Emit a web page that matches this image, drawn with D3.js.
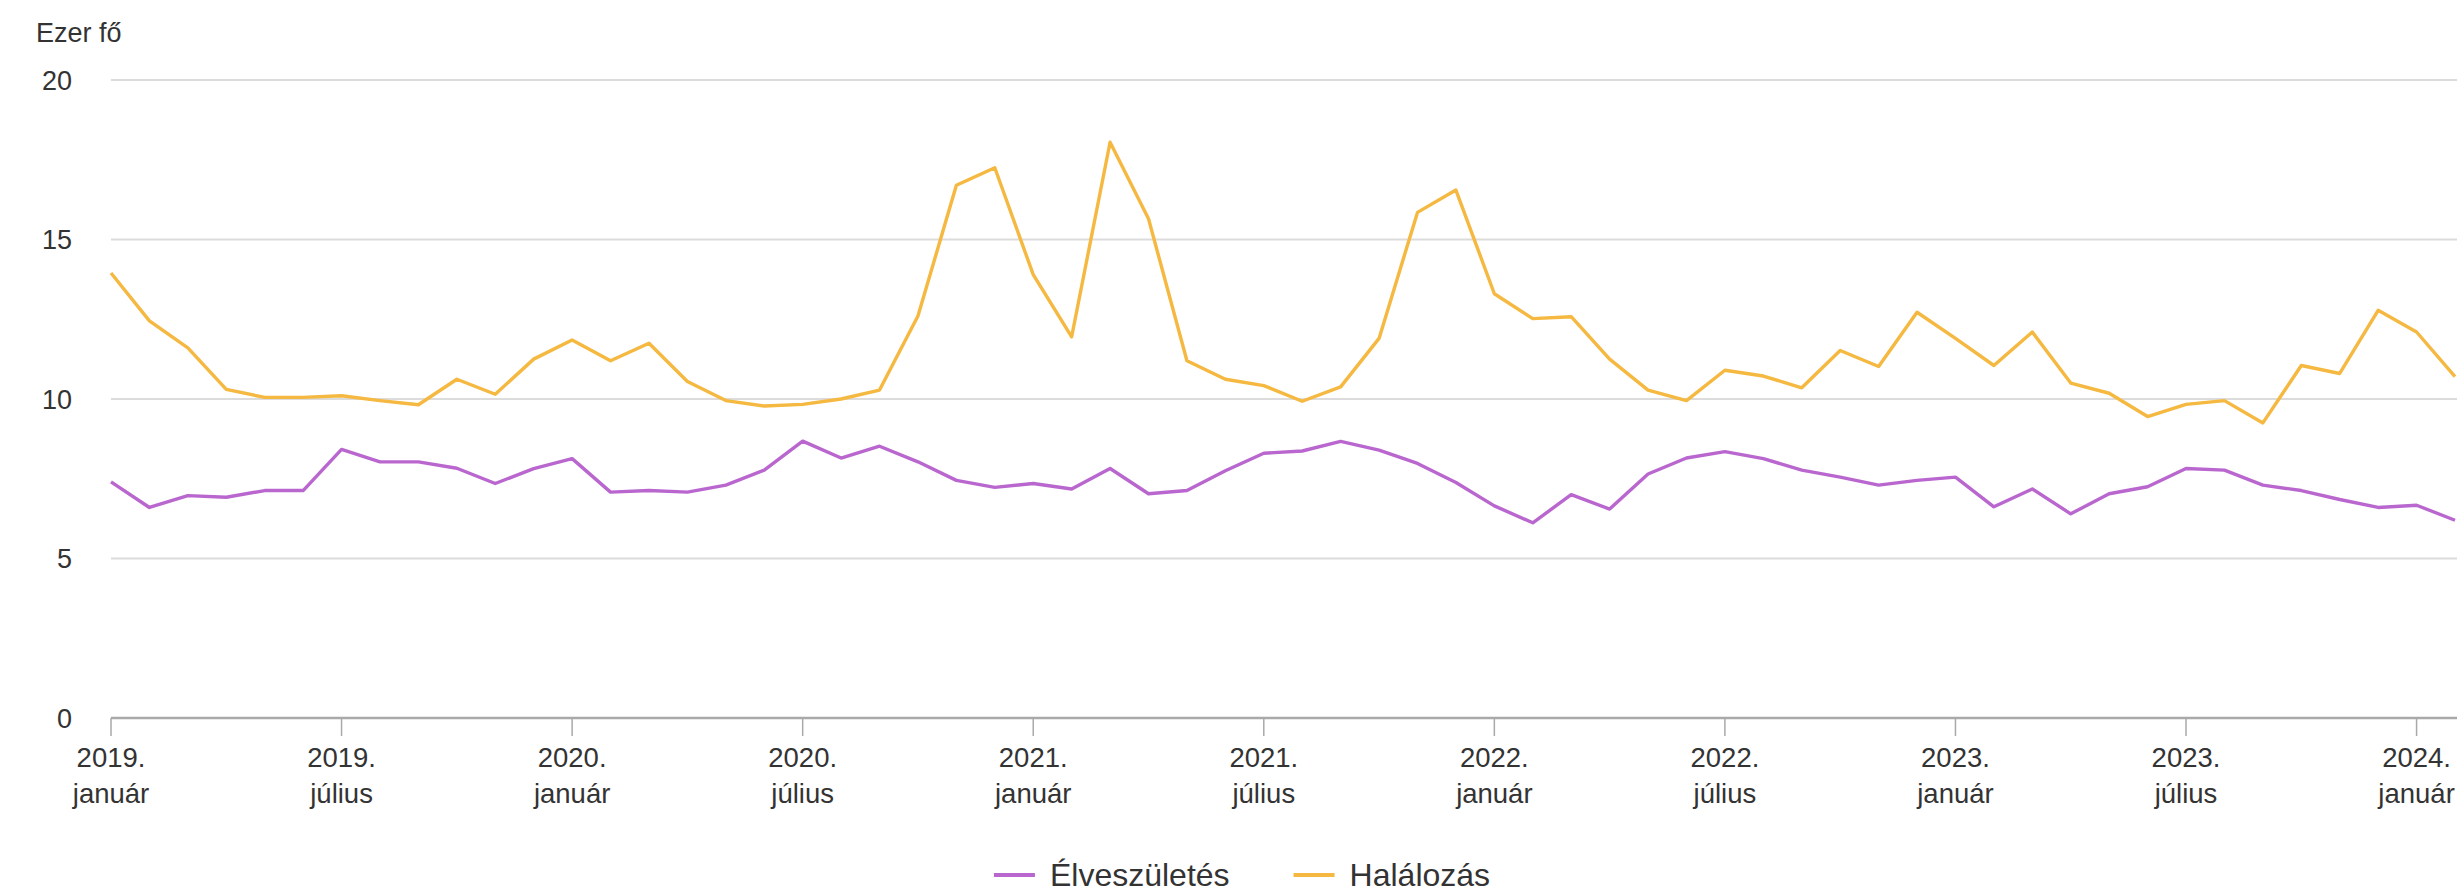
<!DOCTYPE html>
<html>
<head>
<meta charset="utf-8">
<script src="https://cdn.jsdelivr.net/npm/d3@7"></script>
<style>
  html, body { margin: 0; padding: 0; background: #ffffff; }
  svg { display: block; font-family: "Liberation Sans", Arial, sans-serif; }
</style>
</head>
<body>
<svg id="chart" width="2463" height="895"></svg>
<script>
// ---- Data ----
const months = [
  "2019-01","2019-02","2019-03","2019-04","2019-05","2019-06","2019-07","2019-08","2019-09","2019-10","2019-11","2019-12",
  "2020-01","2020-02","2020-03","2020-04","2020-05","2020-06","2020-07","2020-08","2020-09","2020-10","2020-11","2020-12",
  "2021-01","2021-02","2021-03","2021-04","2021-05","2021-06","2021-07","2021-08","2021-09","2021-10","2021-11","2021-12",
  "2022-01","2022-02","2022-03","2022-04","2022-05","2022-06","2022-07","2022-08","2022-09","2022-10","2022-11","2022-12",
  "2023-01","2023-02","2023-03","2023-04","2023-05","2023-06","2023-07","2023-08","2023-09","2023-10","2023-11","2023-12",
  "2024-01","2024-02"
];

const elveszuletes = [
  7.40, 6.60, 6.97, 6.92, 7.13, 7.13, 8.42, 8.03, 8.03, 7.83, 7.35, 7.82,
  8.13, 7.08, 7.13, 7.08, 7.30, 7.77, 8.68, 8.15, 8.52, 8.03, 7.45, 7.23,
  7.35, 7.18, 7.82, 7.03, 7.13, 7.75, 8.30, 8.37, 8.67, 8.40, 7.98, 7.38,
  6.65, 6.12, 7.00, 6.55, 7.65, 8.15, 8.35, 8.13, 7.77, 7.55, 7.30, 7.45,
  7.55, 6.62, 7.18, 6.40, 7.03, 7.25, 7.82, 7.77, 7.30, 7.13, 6.85, 6.60,
  6.67, 6.20
];

const halalozas = [
  13.95, 12.45, 11.60, 10.30, 10.05, 10.05, 10.10, 9.95, 9.82, 10.62, 10.15, 11.25,
  11.85, 11.20, 11.75, 10.55, 9.95, 9.78, 9.83, 10.00, 10.28, 12.60, 16.70, 17.25,
  13.90, 11.95, 18.05, 15.65, 11.20, 10.62, 10.42, 9.93, 10.38, 11.90, 15.85, 16.55,
  13.30, 12.52, 12.58, 11.25, 10.28, 9.95, 10.90, 10.72, 10.35, 11.52, 11.02, 12.72,
  11.90, 11.05, 12.10, 10.50, 10.18, 9.45, 9.83, 9.95, 9.25, 11.05, 10.80, 12.78,
  12.10, 10.70
];

const tickMonths = ["2019-01","2019-07","2020-01","2020-07","2021-01","2021-07","2022-01","2022-07","2023-01","2023-07","2024-01"];
const tickYears  = ["2019.","2019.","2020.","2020.","2021.","2021.","2022.","2022.","2023.","2023.","2024."];
const tickNames  = ["január","július","január","július","január","július","január","július","január","július","január"];

const yTicks = [0, 5, 10, 15, 20];
const yUnit = "Ezer fő";

const seriesNames  = ["Élveszületés", "Halálozás"];
const seriesColors = ["#b967cf", "#f5b840"];
const seriesValues = [elveszuletes, halalozas];

// ---- Chart ----
const svg = d3.select("#chart");
const textColor = "#333333";

const x = d3.scalePoint().domain(months).range([111, 2455]);
const y = d3.scaleLinear().domain([0, 20]).range([718, 80]);

// gridlines
svg.append("g")
  .selectAll("line")
  .data(yTicks.filter(d => d > 0))
  .join("line")
  .attr("x1", 111).attr("x2", 2457)
  .attr("y1", d => y(d)).attr("y2", d => y(d))
  .attr("stroke", "#dcdcdc").attr("stroke-width", 2);

// y labels
svg.append("g")
  .selectAll("text")
  .data(yTicks)
  .join("text")
  .attr("x", 72).attr("y", d => y(d))
  .attr("dy", "0.36em")
  .attr("text-anchor", "end")
  .attr("font-size", 27)
  .attr("fill", textColor)
  .text(d => d);

// unit label
svg.append("text")
  .attr("x", 36).attr("y", 42)
  .attr("font-size", 27)
  .attr("fill", textColor)
  .text(yUnit);

// x axis line
svg.append("line")
  .attr("x1", 111).attr("x2", 2457)
  .attr("y1", y(0)).attr("y2", y(0))
  .attr("stroke", "#a9a9a9").attr("stroke-width", 2.5);

// x ticks
const tg = svg.append("g")
  .selectAll("g")
  .data(tickMonths)
  .join("g")
  .attr("transform", d => `translate(${x(d)},0)`);

tg.append("line")
  .attr("y1", y(0)).attr("y2", y(0) + 18)
  .attr("stroke", "#a9a9a9").attr("stroke-width", 1.5);

tg.append("text")
  .attr("y", 767)
  .attr("text-anchor", "middle")
  .attr("font-size", 27.5)
  .attr("fill", textColor)
  .text((d, i) => tickYears[i]);

tg.append("text")
  .attr("y", 803)
  .attr("text-anchor", "middle")
  .attr("font-size", 27.5)
  .attr("fill", textColor)
  .text((d, i) => tickNames[i]);

// lines
const line = d3.line()
  .x((d, i) => x(months[i]))
  .y(d => y(d));

svg.append("g")
  .selectAll("path")
  .data(seriesValues)
  .join("path")
  .attr("d", d => line(d))
  .attr("fill", "none")
  .attr("stroke", (d, i) => seriesColors[i])
  .attr("stroke-width", 3.4)
  .attr("stroke-linejoin", "round");

// legend
const legend = svg.append("g");
let cursor = 0;
seriesNames.forEach((name, i) => {
  const g = legend.append("g").attr("transform", `translate(${cursor},0)`);
  g.append("line")
    .attr("x1", 0).attr("x2", 41)
    .attr("y1", 875).attr("y2", 875)
    .attr("stroke", seriesColors[i]).attr("stroke-width", 4);
  const t = g.append("text")
    .attr("x", 56).attr("y", 886)
    .attr("font-size", 32)
    .attr("fill", textColor)
    .text(name);
  const w = t.node().getComputedTextLength();
  cursor += 56 + w + 64;
});
const totalW = cursor - 64;
legend.attr("transform", `translate(${1242 - totalW / 2},0)`);
</script>
</body>
</html>
